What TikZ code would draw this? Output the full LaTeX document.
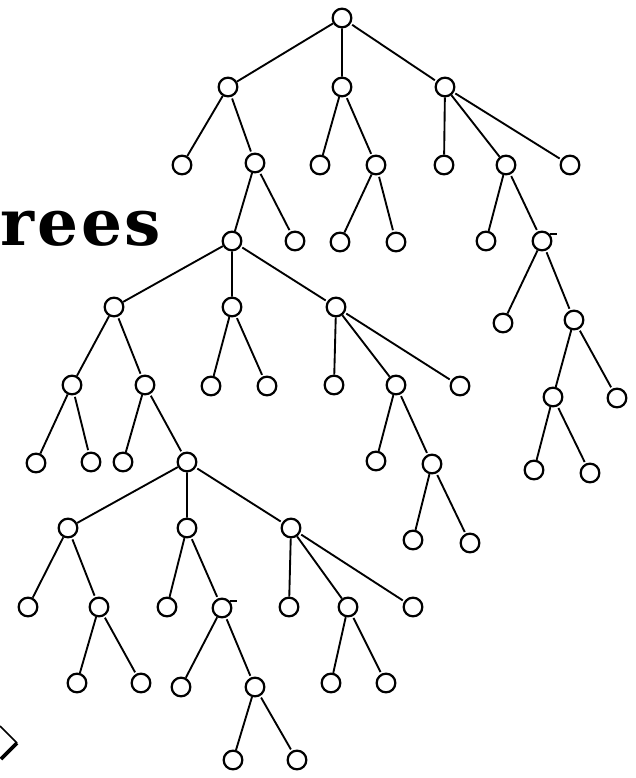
\documentclass[tikz,border=0pt]{standalone}
\usepackage{fontspec}
\usepackage{tikz}
\usetikzlibrary{positioning}

\newfontfamily\titlefont[LetterSpace=4]{DejaVu Serif}

\begin{document}
\begin{tikzpicture}[
  x=0.03cm, y=-0.03cm,
  dot/.style={circle, draw, line width=1.9pt, minimum size=0.56cm, inner sep=0pt},
  every path/.style={line width=1.6pt},
  shorten >=1.5pt, shorten <=1.5pt
]
  \useasboundingbox (0,0) rectangle (635,778);

  % title, cut at the left border
  \node[anchor=base west, inner sep=0pt, font=\titlefont\fontsize{55}{55}\selectfont\bfseries] (title) at (0,245) {rees};

  % top tree
  \node[dot] (t) at (342,18) {};
  \node[dot] (t1) at (228,87) {};
  \node[dot] (t2) at (342,87) {};
  \node[dot] (t3) at (445,87) {};
  \node[dot] (t11) at (182,165) {};
  \node[dot] (t12) at (255,163) {};
  \node[dot] (t122) at (295,241) {};
  \node[dot] (t21) at (320,165) {};
  \node[dot] (t22) at (376,165) {};
  \node[dot] (t221) at (340,242) {};
  \node[dot] (t222) at (396,242) {};
  \node[dot] (t31) at (444,165) {};
  \node[dot] (t32) at (506,165) {};
  \node[dot] (t33) at (570,165) {};
  \node[dot] (t321) at (486,241) {};
  \node[dot] (t322) at (542,241) {};
  \node[dot] (t3221) at (503,323) {};
  \node[dot] (t3222) at (574,320) {};
  \node[dot] (t32221) at (553,397) {};
  \node[dot] (t32222) at (617,398) {};
  \node[dot] (t322211) at (534,470) {};
  \node[dot] (t322212) at (590,473) {};

  % middle tree, hanging from t12
  \node[dot] (m) at (232,241) {};
  \node[dot] (m1) at (114,307) {};
  \node[dot] (m2) at (232,307) {};
  \node[dot] (m3) at (336,307) {};
  \node[dot] (m11) at (72,385) {};
  \node[dot] (m12) at (145,385) {};
  \node[dot] (m111) at (36,463) {};
  \node[dot] (m112) at (91,462) {};
  \node[dot] (m121) at (123,462) {};
  \node[dot] (m21) at (211,386) {};
  \node[dot] (m22) at (267,386) {};
  \node[dot] (m31) at (334,385) {};
  \node[dot] (m32) at (396,385) {};
  \node[dot] (m33) at (460,386) {};
  \node[dot] (m321) at (376,461) {};
  \node[dot] (m322) at (432,464) {};
  \node[dot] (m3221) at (413,540) {};
  \node[dot] (m3222) at (470,543) {};

  % bottom tree, hanging from m12
  \node[dot] (b) at (187,462) {};
  \node[dot] (b1) at (68,528) {};
  \node[dot] (b2) at (187,528) {};
  \node[dot] (b3) at (291,528) {};
  \node[dot] (b11) at (28,607) {};
  \node[dot] (b12) at (99,607) {};
  \node[dot] (b121) at (77,683) {};
  \node[dot] (b122) at (141,683) {};
  \node[dot] (b21) at (167,607) {};
  \node[dot] (b22) at (222,608) {};
  \node[dot] (b221) at (181,687) {};
  \node[dot] (b222) at (255,687) {};
  \node[dot] (b2221) at (233,760) {};
  \node[dot] (b2222) at (297,760) {};
  \node[dot] (b31) at (289,607) {};
  \node[dot] (b32) at (348,607) {};
  \node[dot] (b33) at (413,607) {};
  \node[dot] (b321) at (331,683) {};
  \node[dot] (b322) at (386,683) {};

  % edges of the top tree
  \draw (t) -- (t1) (t) -- (t2) (t) -- (t3);
  \draw (t1) -- (t11) (t1) -- (t12);
  \draw (t12) -- (m) (t12) -- (t122);
  \draw (t2) -- (t21) (t2) -- (t22);
  \draw (t22) -- (t221) (t22) -- (t222);
  \draw (t3) -- (t31) (t3) -- (t32) (t3) -- (t33);
  \draw (t32) -- (t321) (t32) -- (t322);
  \draw (t322) -- (t3221) (t322) -- (t3222);
  \draw (t3222) -- (t32221) (t3222) -- (t32222);
  \draw (t32221) -- (t322211) (t32221) -- (t322212);

  % edges of the middle tree
  \draw (m) -- (m1) (m) -- (m2) (m) -- (m3);
  \draw (m1) -- (m11) (m1) -- (m12);
  \draw (m11) -- (m111) (m11) -- (m112);
  \draw (m12) -- (m121) (m12) -- (b);
  \draw (m2) -- (m21) (m2) -- (m22);
  \draw (m3) -- (m31) (m3) -- (m32) (m3) -- (m33);
  \draw (m32) -- (m321) (m32) -- (m322);
  \draw (m322) -- (m3221) (m322) -- (m3222);

  % edges of the bottom tree
  \draw (b) -- (b1) (b) -- (b2) (b) -- (b3);
  \draw (b1) -- (b11) (b1) -- (b12);
  \draw (b12) -- (b121) (b12) -- (b122);
  \draw (b2) -- (b21) (b2) -- (b22);
  \draw (b22) -- (b221) (b22) -- (b222);
  \draw (b222) -- (b2221) (b222) -- (b2222);
  \draw (b3) -- (b31) (b3) -- (b32) (b3) -- (b33);
  \draw (b32) -- (b321) (b32) -- (b322);

  % little stubs on two of the dots
  \draw[shorten <=0pt, shorten >=0pt] (t322.40) -- ++(7,0);
  \draw[shorten <=0pt, shorten >=0pt] (b22.40) -- ++(7,0);

  % corner of the diamond, cut at the left border
  \coordinate (dtip) at (17,743);
  \draw[line width=1.4pt, shorten <=0pt, shorten >=0pt] (0,726) -- (dtip);
  \draw[line width=3.2pt, shorten <=0pt, shorten >=0pt] (dtip) -- (1,759);
\end{tikzpicture}
\end{document}
